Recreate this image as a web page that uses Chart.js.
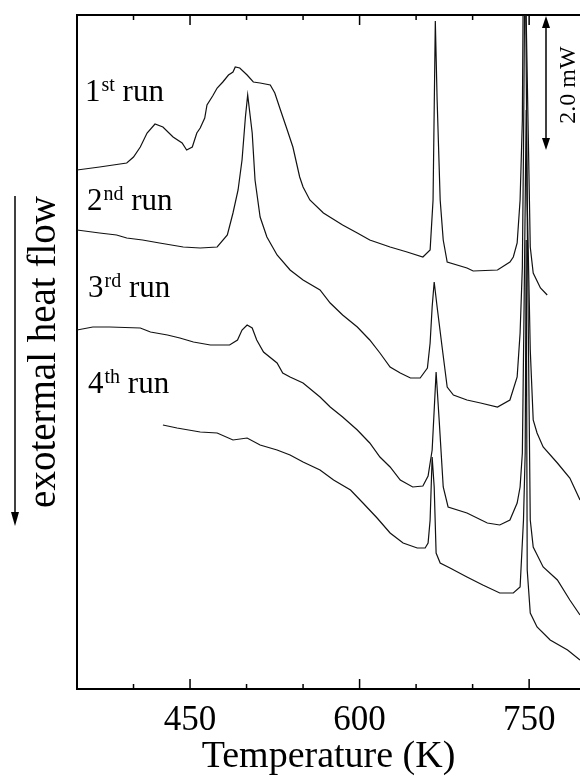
<!DOCTYPE html>
<html>
<head>
<meta charset="utf-8">
<script src="https://cdn.jsdelivr.net/npm/chart.js@4.4.1/dist/chart.umd.min.js"></script>
<style>
  html, body { margin: 0; padding: 0; background: #fff; }
  canvas { display: block; }
</style>
</head>
<body>
<canvas id="c" width="580" height="784"></canvas>
<script>
// ---- Data (temperature in K, heat flow in arbitrary units, endothermic up) ----
const run1T = [350,370,394,400,406,412,419,426,435,443,447,452,456,459,463,465,470,474,479,484,488,490,494,500.5,506,512,521,525,530,536,541,547,550,556,568,585,598,609,627,642,656,662.4,665,667,668.6,671.3,674,677.5,695,700.5,722,733,736,739.4,742,744,745,746,749,751,753.6,760,766];
const run1Q = [519,522,526,532,542,556,565,562,552,546,539,542,556,561,571,584,593,601,607,614,617,622,621,614,607,606,604,596,579,559,542,512,502,489,476,464,456,449,442,437,432,439,489,668,589,489,449,427,421,418,419,427,432,446,489,569,740,760,569,442,416,401,394];

const run2T = [350,370,385,394,408,423,444,459,474,483,488,492.5,496,499,501,505,507.5,512,518,527,538.5,550,565,574,585,598,609,618,627,636,645,653.6,660,662.4,664.2,666,668.6,673,677.5,683,695,707,722,733,739.4,742,744,745,746.5,748.3,751,753.6,757,762.4,775,786,795];
const run2Q = [459,456,454,451,449,446,442,441,442,454,476,499,529,572,594,556,509,472,452,434,419,409,399,386,374,362,349,336,322,316,311,311,321,346,382,407,382,342,302,294,289,286,282,289,312,356,422,539,760,489,339,269,256,242,226,211,189];

const run3T = [350,364,379,406,415,430,441,453,468,485,492,496,500.5,505,509,515,527,532,538.5,550,565,574,585,598,609,618,627,636,647,656,660.6,664.2,666,667.7,670.4,674,678.3,695,713,724,733,739.4,742,744,745.6,747.4,749,751,753.6,762.4,775,786,795];
const run3Q = [359,362,362,361,357,354,351,347,344,344,349,359,364,361,349,337,326,316,312,306,292,282,272,259,246,232,222,209,202,203,213,239,279,317,269,202,182,176,166,164,169,186,202,236,389,579,389,169,142,122,109,89,74];

const run4T = [426,438.5,459,474,488,500.5,512,527,538.5,550,565,577,592,603,615.5,627,638.5,651,658,660.6,662.4,664.2,666,667.7,671.3,680,695,709,724,736,742,745,746.5,747.4,748.3,751,757,768.6,784,795];
const run4Q = [264,261,257,256,249,251,244,239,234,227,219,209,199,186,171,156,146,141,141,146,169,232,202,136,126,121,112,104,96,96,102,169,236,449,119,76,62,49,39,29];

const runNumbers = ['1','2','3','4'];
const runSuffixes = ['st','nd','rd','th'];
const tickLabels = ['450','600','750'];

const xMin = 350, xMax = 795;
const yMin = 0, yMax = 674;

function pts(T, Q) { return T.map((t, i) => ({ x: t, y: Q[i] })); }

const serif = '"Liberation Serif", "DejaVu Serif", serif';

const decorations = {
  id: 'decorations',
  afterDraw(chart) {
    const ctx = chart.ctx;
    const ca = chart.chartArea;
    const xs = chart.scales.x;
    ctx.save();
    ctx.strokeStyle = '#000';
    ctx.fillStyle = '#000';
    // inward ticks on bottom and top axes
    ctx.lineWidth = 1.5;
    xs.ticks.forEach(tk => {
      const v = tk.value;
      if (v % 50 !== 0 || v <= xMin) return;
      const px = xs.getPixelForValue(v);
      const len = (v % 150 === 0) ? 10 : 5;
      ctx.beginPath();
      ctx.moveTo(px, ca.bottom); ctx.lineTo(px, ca.bottom - len);
      ctx.moveTo(px, ca.top); ctx.lineTo(px, ca.top + len);
      ctx.stroke();
    });

    // run labels with superscripts
    const baselines = [101, 210, 297, 393];
    const starts = [85, 87, 88, 88];
    for (let i = 0; i < 4; i++) {
      let x = starts[i];
      const y = baselines[i];
      ctx.textBaseline = 'alphabetic';
      ctx.textAlign = 'left';
      ctx.font = '31px ' + serif;
      ctx.fillText(runNumbers[i], x, y);
      x += ctx.measureText(runNumbers[i]).width + 1;
      ctx.font = '20px ' + serif;
      ctx.fillText(runSuffixes[i], x, y - 10);
      x += ctx.measureText(runSuffixes[i]).width;
      ctx.font = '31px ' + serif;
      ctx.fillText(' run', x, y);
    }

    // down arrow next to the y label
    ctx.lineWidth = 1.5;
    ctx.beginPath();
    ctx.moveTo(15, 196); ctx.lineTo(15, 515);
    ctx.stroke();
    ctx.beginPath();
    ctx.moveTo(15, 526); ctx.lineTo(11, 512); ctx.lineTo(19, 512); ctx.closePath();
    ctx.fill();

    // 2.0 mW scale bar
    const sx = 546, sTop = ca.top, sBot = 150;
    ctx.beginPath();
    ctx.moveTo(sx, sTop + 8); ctx.lineTo(sx, sBot - 8);
    ctx.stroke();
    ctx.beginPath();
    ctx.moveTo(sx, sTop + 1); ctx.lineTo(sx - 4, sTop + 13); ctx.lineTo(sx + 4, sTop + 13); ctx.closePath();
    ctx.fill();
    ctx.beginPath();
    ctx.moveTo(sx, sBot); ctx.lineTo(sx - 4, sBot - 12); ctx.lineTo(sx + 4, sBot - 12); ctx.closePath();
    ctx.fill();
    ctx.translate(575, 85);
    ctx.rotate(-Math.PI / 2);
    ctx.font = '24px ' + serif;
    ctx.textAlign = 'center';
    ctx.textBaseline = 'alphabetic';
    ctx.fillText('2.0 mW', 0, 0);
    ctx.restore();
  }
};

new Chart(document.getElementById('c'), {
  type: 'line',
  data: {
    datasets: [
      { label: '1st run', data: pts(run1T, run1Q) },
      { label: '2nd run', data: pts(run2T, run2Q) },
      { label: '3rd run', data: pts(run3T, run3Q) },
      { label: '4th run', data: pts(run4T, run4Q) }
    ].map(d => Object.assign(d, {
      borderColor: '#111', borderWidth: 1.2, pointRadius: 0, tension: 0, fill: false
    }))
  },
  options: {
    responsive: false,
    animation: false,
    devicePixelRatio: 1,
    layout: { padding: 0 },
    plugins: { legend: { display: false }, tooltip: { enabled: false } },
    scales: {
      x: {
        type: 'linear', position: 'bottom', min: xMin, max: xMax,
        grid: { display: false, drawTicks: false },
        border: { display: true, color: '#000', width: 2 },
        ticks: {
          stepSize: 50, autoSkip: false, maxRotation: 0, padding: 11, includeBounds: false,
          color: '#000', font: { family: serif, size: 35 },
          callback: v => tickLabels.includes(String(v)) ? String(v) : ''
        },
        title: {
          display: true, text: 'Temperature (K)', color: '#000',
          font: { family: serif, size: 38 }, padding: { top: 0, bottom: 4 }
        },
        afterFit: s => { s.height = 95; }
      },
      xTop: {
        type: 'linear', position: 'top', min: xMin, max: xMax,
        grid: { display: false, drawTicks: false },
        border: { display: true, color: '#000', width: 2 },
        ticks: { display: false },
        afterFit: s => { s.height = 15; }
      },
      y: {
        type: 'linear', position: 'left', min: yMin, max: yMax,
        grid: { display: false, drawTicks: false },
        border: { display: true, color: '#000', width: 2 },
        ticks: { display: false },
        title: {
          display: true, text: 'exotermal heat flow', color: '#000',
          font: { family: serif, size: 39 }, padding: { top: 21, bottom: 0 }
        },
        afterFit: s => { s.width = 77; }
      }
    }
  },
  plugins: [decorations]
});
</script>
</body>
</html>
